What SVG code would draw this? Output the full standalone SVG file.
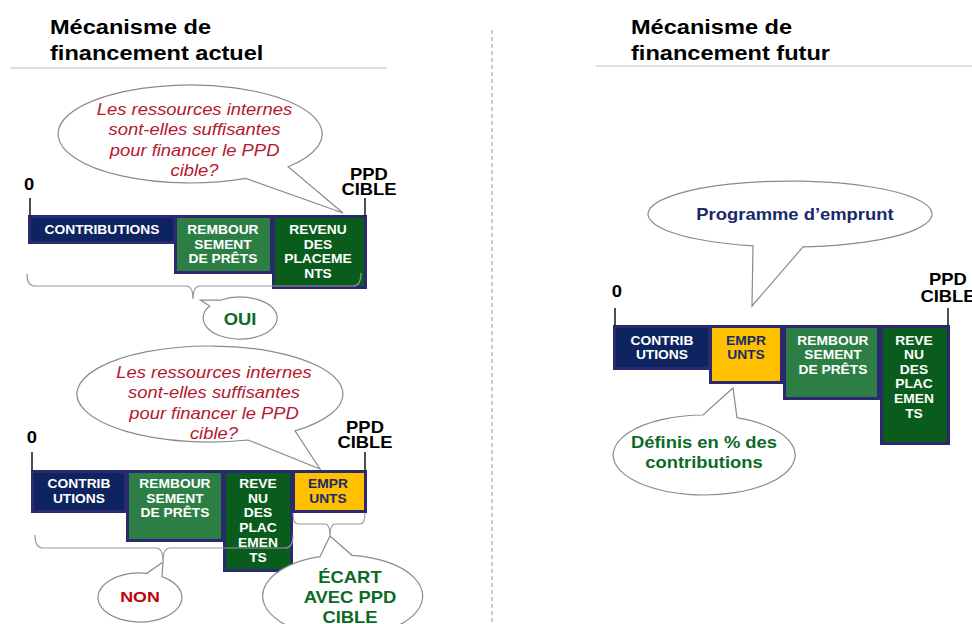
<svg xmlns="http://www.w3.org/2000/svg" width="972" height="624" viewBox="0 0 972 624">
<style>
text { font-family: "Liberation Sans", Arial, sans-serif; text-anchor: middle; transform-box: fill-box; transform-origin: center; transform: scaleX(1.15); }
.title { font-size: 20.5px; font-weight: bold; fill: #000; text-anchor: start; transform-origin: left center; }
.lab { font-size: 16px; font-weight: bold; fill: #000; }
.bt { font-size: 12px; font-weight: bold; fill: #fff; }
.bty { font-size: 12px; font-weight: bold; fill: #1a2a6c; }
.q { font-size: 16px; font-style: italic; fill: #b5172f; }
.g { font-size: 16px; font-weight: bold; fill: #0b6a26; }
.r { font-size: 15.5px; font-weight: bold; fill: #c0000c; }
.p { font-size: 16px; font-weight: bold; fill: #17296b; }
.seg { stroke: #2b2a6f; stroke-width: 3; }
.navy { fill: #0e2460; }
.mg { fill: #2c7e45; }
.dg { fill: #0a5c1c; }
.yl { fill: #ffc000; }
.bub { fill: #fff; stroke: #8a8a8a; stroke-width: 1.2; }
.brace { fill: none; stroke: #9a9a9a; stroke-width: 1.2; }
.tick { stroke: #222; stroke-width: 1.6; }
.rule { stroke: #c0c0c0; stroke-width: 1.2; }
</style>

<g id="frame">
  <line class="rule" x1="10" y1="68" x2="387" y2="68"/>
  <line class="rule" x1="596" y1="66" x2="972" y2="66"/>
  <line x1="492" y1="30" x2="492" y2="624" stroke="#aaaaaa" stroke-width="1.2" stroke-dasharray="4 3"/>
  <text class="title" x="50" y="34">Mécanisme de</text>
  <text class="title" x="50" y="60">financement actuel</text>
  <text class="title" x="631" y="34">Mécanisme de</text>
  <text class="title" x="631" y="60">financement futur</text>
</g>

<!-- Top-left panel -->
<g id="q1">
  <path class="bub" d="M245.8 178.4 A132 49 0 1 1 288.1 166.8 L343 213 Z"/>
  <text class="q" x="194.5" y="115">Les ressources internes</text>
  <text class="q" x="194.5" y="135">sont-elles suffisantes</text>
  <text class="q" x="194.5" y="156">pour financer le PPD</text>
  <text class="q" x="194.5" y="176">cible?</text>
</g>
<g id="a-labels">
  <text class="lab" x="29" y="190">0</text>
  <text class="lab" x="369" y="180">PPD</text>
  <text class="lab" x="369" y="195">CIBLE</text>
</g>
<g id="a-contrib">
  <rect class="seg navy" x="29.5" y="216.5" width="145" height="26"/>
  <text class="bt" x="102" y="234">CONTRIBUTIONS</text>
</g>
<g id="a-rembours">
  <rect class="seg mg" x="175.5" y="216.5" width="96" height="56"/>
  <text class="bt" x="223" y="234">REMBOUR</text>
  <text class="bt" x="223" y="249">SEMENT</text>
  <text class="bt" x="223" y="263">DE PRÊTS</text>
</g>
<g id="a-revenu">
  <rect class="seg dg" x="273.5" y="216.5" width="92" height="71"/>
  <text class="bt" x="318" y="234">REVENU</text>
  <text class="bt" x="318" y="249">DES</text>
  <text class="bt" x="318" y="263">PLACEME</text>
  <text class="bt" x="318" y="278">NTS</text>
</g>
<g id="oui">
  <path class="bub" d="M209.7 306 A37 21 0 1 0 220.4 300.2 L200.5 300 Z"/>
  <text class="g" x="240" y="325">OUI</text>
</g>

<!-- Bottom-left panel -->
<g id="q2">
  <path class="bub" d="M248 440 A133 48 0 1 1 295 430.9 L320 469 Z"/>
  <text class="q" x="214" y="378">Les ressources internes</text>
  <text class="q" x="214" y="398">sont-elles suffisantes</text>
  <text class="q" x="214" y="419">pour financer le PPD</text>
  <text class="q" x="214" y="439">cible?</text>
</g>
<g id="b-labels">
  <text class="lab" x="32" y="443">0</text>
  <text class="lab" x="365" y="433">PPD</text>
  <text class="lab" x="365" y="448">CIBLE</text>
</g>
<g id="b-contrib">
  <rect class="seg navy" x="32.5" y="471.5" width="93" height="40"/>
  <text class="bt" x="79" y="488">CONTRIB</text>
  <text class="bt" x="79" y="503">UTIONS</text>
</g>
<g id="b-rembours">
  <rect class="seg mg" x="127.5" y="471.5" width="95" height="69"/>
  <text class="bt" x="175" y="488">REMBOUR</text>
  <text class="bt" x="175" y="503">SEMENT</text>
  <text class="bt" x="175" y="517">DE PRÊTS</text>
</g>
<g id="b-revenu">
  <rect class="seg dg" x="224.5" y="471.5" width="67" height="99"/>
  <text class="bt" x="258" y="488">REVE</text>
  <text class="bt" x="258" y="503">NU</text>
  <text class="bt" x="258" y="517">DES</text>
  <text class="bt" x="258" y="532">PLAC</text>
  <text class="bt" x="258" y="547">EMEN</text>
  <text class="bt" x="258" y="562">TS</text>
</g>
<g id="b-emprunts">
  <rect class="seg yl" x="293.5" y="471.5" width="72" height="40"/>
  <text class="bty" x="328" y="488">EMPR</text>
  <text class="bty" x="328" y="503">UNTS</text>
</g>
<g id="non">
  <path class="bub" d="M147 573.3 A42 24.5 0 1 0 162 576.6 L163 562 Z"/>
  <text class="r" x="140" y="602">NON</text>
</g>
<g id="ecart">
  <path class="bub" d="M320 556.7 A80 41 0 1 0 352 555.3 L330 536 Z"/>
  <text class="g" x="350" y="583">ÉCART</text>
  <text class="g" x="350" y="603">AVEC PPD</text>
  <text class="g" x="350" y="623">CIBLE</text>
</g>

<!-- Right panel -->
<g id="prog">
  <path class="bub" d="M753 245.9 A142 33 0 1 1 803 246.9 L752 306 Z"/>
  <text class="p" x="795" y="220">Programme d’emprunt</text>
</g>
<g id="c-labels">
  <text class="lab" x="617" y="297">0</text>
  <text class="lab" x="948" y="285">PPD</text>
  <text class="lab" x="948" y="302">CIBLE</text>
</g>
<g id="c-contrib">
  <rect class="seg navy" x="614.5" y="326.5" width="95" height="42"/>
  <text class="bt" x="662" y="345">CONTRIB</text>
  <text class="bt" x="662" y="359">UTIONS</text>
</g>
<g id="c-emprunts">
  <rect class="seg yl" x="710.5" y="326.5" width="71" height="56"/>
  <text class="bty" x="746" y="345">EMPR</text>
  <text class="bty" x="746" y="359">UNTS</text>
</g>
<g id="c-rembours">
  <rect class="seg mg" x="784.5" y="326.5" width="94" height="72"/>
  <text class="bt" x="833" y="345">REMBOUR</text>
  <text class="bt" x="833" y="359">SEMENT</text>
  <text class="bt" x="833" y="374">DE PRÊTS</text>
</g>
<g id="c-revenu">
  <rect class="seg dg" x="881.5" y="326.5" width="67" height="117"/>
  <text class="bt" x="914" y="345">REVE</text>
  <text class="bt" x="914" y="359">NU</text>
  <text class="bt" x="914" y="374">DES</text>
  <text class="bt" x="914" y="388">PLAC</text>
  <text class="bt" x="914" y="403">EMEN</text>
  <text class="bt" x="914" y="418">TS</text>
</g>
<g id="definis">
  <path class="bub" d="M703 415 A91 40 0 1 0 737 417.7 L733 388 Z"/>
  <text class="g" x="704" y="448">Définis en % des</text>
  <text class="g" x="704" y="468">contributions</text>
</g>

<g id="connectors">
  <line class="tick" x1="30" y1="198" x2="30" y2="217"/>
  <line class="tick" x1="365" y1="198" x2="365" y2="216"/>
  <line class="tick" x1="32" y1="452" x2="32" y2="471"/>
  <line class="tick" x1="365" y1="452" x2="365" y2="471"/>
  <line class="tick" x1="615" y1="308" x2="615" y2="326"/>
  <line class="tick" x1="948" y1="308" x2="948" y2="326"/>
  <path class="brace" d="M27 274 Q27 286 35 286 L186 286 Q193 286 193 299 Q193 286 200 286 L353 286 Q361 286 361 273"/>
  <path class="brace" d="M35 535 Q35 548 43 548 L156 548 Q163 548 163 561 Q163 548 170 548 L285 548 Q293 548 293 535"/>
  <path class="brace" d="M293 513 Q293 524 298 524 L325 524 Q330 524 330 537 Q330 524 335 524 L360 524 Q365 524 365 513"/>
</g>
</svg>
